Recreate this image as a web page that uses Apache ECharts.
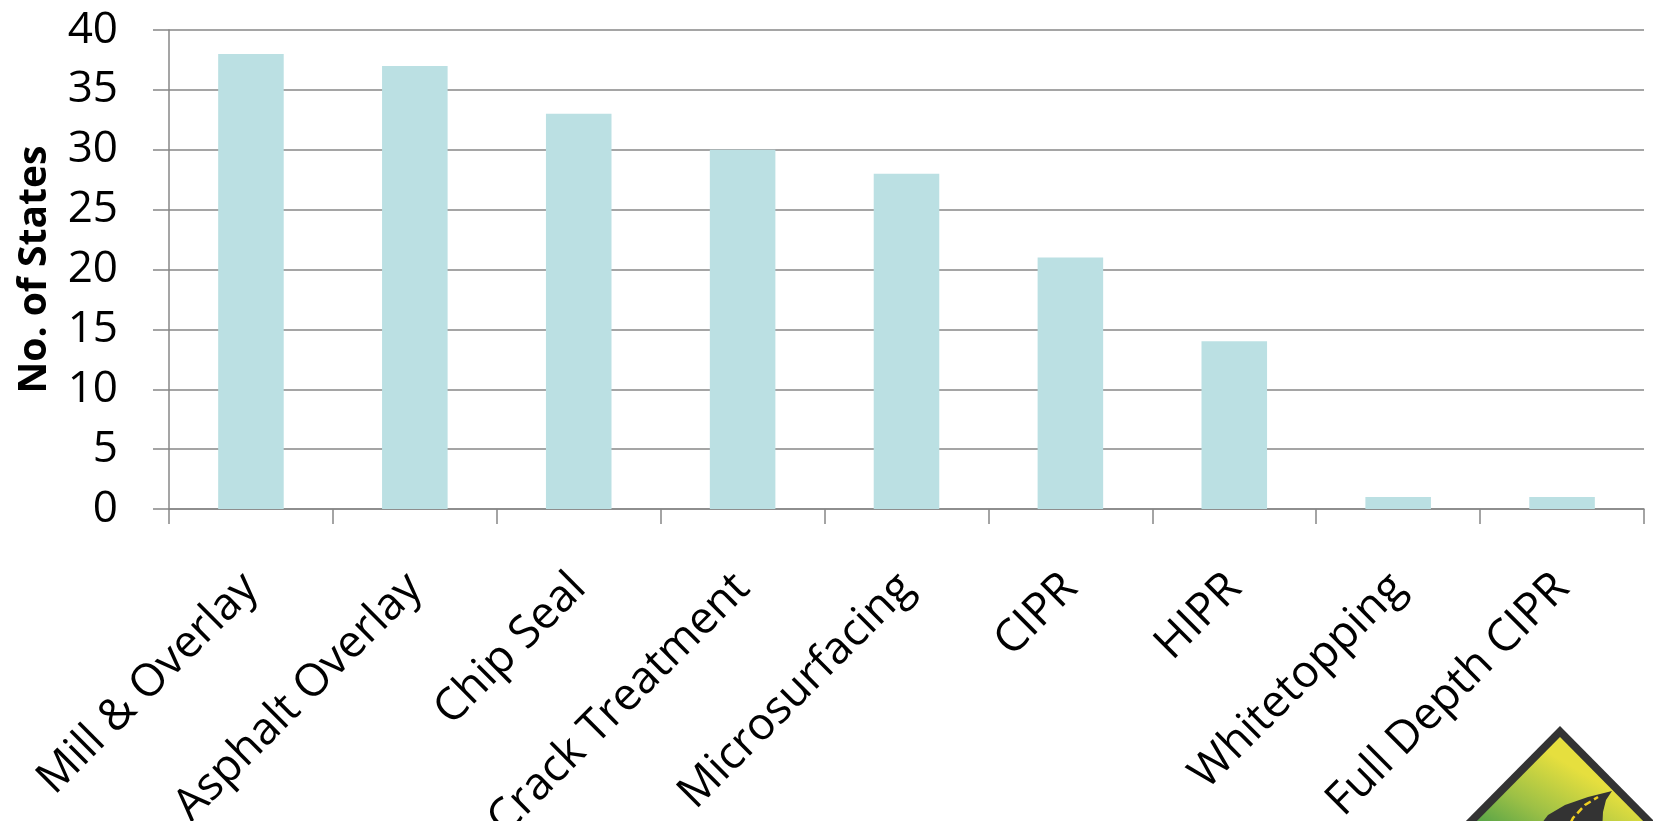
<!DOCTYPE html>
<html>
<head>
<meta charset="utf-8">
<script src="https://cdn.jsdelivr.net/npm/echarts@6/dist/echarts.min.js"></script>
<style>
html,body{margin:0;padding:0;background:#fff;}
#chart{width:1653px;height:821px;}
</style>
</head>
<body>
<div id="chart"></div>
<script>
const categories = ["Mill & Overlay","Asphalt Overlay","Chip Seal","Crack Treatment","Microsurfacing","CIPR","HIPR","Whitetopping","Full Depth CIPR"];
const states = [38, 37, 33, 30, 28, 21, 14, 1, 1];
const yTicks = [0, 5, 10, 15, 20, 25, 30, 35, 40];

const chart = echarts.init(document.getElementById('chart'));
const FONT = '"Open Sans", "Noto Sans", sans-serif';
const GRID = '#878787';
chart.setOption({
  animation: false,
  backgroundColor: '#ffffff',
  grid: { left: 169, right: 9, top: 30, bottom: 312, containLabel: false, outerBoundsMode: 'none' },
  xAxis: {
    type: 'category',
    data: categories,
    axisLine: { show: true, lineStyle: { color: GRID, width: 1.5 } },
    axisTick: { show: true, alignWithLabel: false, length: 15, lineStyle: { color: GRID, width: 1.5 } },
    axisLabel: { rotate: 45, margin: 72, interval: 0, fontFamily: FONT, fontSize: 45, color: '#000' }
  },
  yAxis: {
    type: 'value',
    min: yTicks[0], max: yTicks[yTicks.length - 1], interval: 5,
    name: 'No. of States',
    nameLocation: 'middle',
    nameGap: 115,
    nameRotate: 90,
    nameTextStyle: { fontFamily: FONT, fontSize: 39, fontWeight: 'bold', color: '#000' },
    axisLine: { show: true, lineStyle: { color: GRID, width: 1.5 } },
    axisTick: { show: true, length: 16, lineStyle: { color: GRID, width: 1.5 } },
    splitLine: { show: true, lineStyle: { color: GRID, width: 1.5 } },
    axisLabel: { margin: 51, fontFamily: FONT, fontSize: 44, color: '#000' }
  },
  series: [{
    type: 'bar',
    data: states,
    barWidth: '40%',
    itemStyle: { color: '#BBE0E3' }
  }],
  graphic: [
    { type: 'polygon', z: 100, shape: { points: [[1560,726],[1455,832],[1665,832]] }, style: { fill: '#333333' } },
    { type: 'polygon', z: 101, shape: { points: [[1560,737],[1466,832],[1654,832]] },
      style: { fill: new echarts.graphic.LinearGradient(0.3,0,0,1,[{offset:0,color:'#e6df3e'},{offset:0.5,color:'#9cc046'},{offset:1,color:'#3f9a48'}]) } },
    { type: 'polygon', z: 102, shape: { points: [[1535,832],[1548,815],[1565,805],[1588,797],[1612,791],[1606,800],[1603,812],[1602,832]] }, style: { fill: '#333333' } },
    { type: 'polyline', z: 103, shape: { points: [[1566,832],[1573,818],[1585,805],[1598,797]] }, style: { stroke: '#f0d020', lineWidth: 2.5, lineDash: [7,4], fill: null } }
  ]
});
</script>
</body>
</html>
